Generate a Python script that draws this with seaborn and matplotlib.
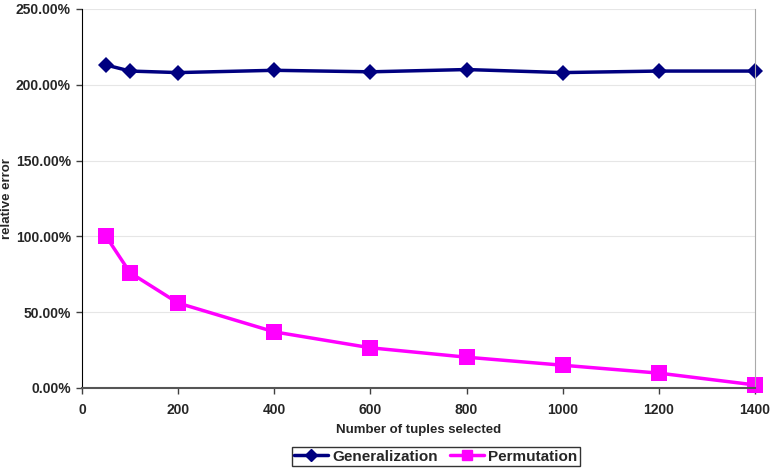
import matplotlib
matplotlib.use("Agg")
import matplotlib.pyplot as plt
import seaborn as sns
import pandas as pd
from matplotlib.ticker import FuncFormatter
from matplotlib.lines import Line2D

x_values = [50, 100, 200, 400, 600, 800, 1000, 1200, 1400]
generalization = [213.0, 209.0, 208.0, 209.5, 208.5, 210.0, 208.0, 209.0, 209.0]
permutation = [100.0, 76.0, 56.0, 37.0, 26.5, 20.3, 15.0, 9.8, 2.0]
series_names = ["Generalization", "Permutation"]

df = pd.DataFrame({
    "x": x_values * 2,
    "y": generalization + permutation,
    "series": [series_names[0]] * len(x_values) + [series_names[1]] * len(x_values),
})

sns.set_style("white")
plt.rcParams['font.family'] = ['Liberation Sans', 'DejaVu Sans']

fig = plt.figure(figsize=(7.7, 4.68), dpi=100)
ax = fig.add_axes([0.1065, 0.171, 0.874, 0.81])

sns.lineplot(data=df, x="x", y="y", hue="series", style="series",
             palette={"Generalization": "#000080", "Permutation": "#FF00FF"},
             markers={"Generalization": "D", "Permutation": "s"},
             dashes=False, markersize=8, linewidth=2.5, markeredgewidth=0,
             ax=ax, legend=False)
for line, ms in zip(ax.lines, [8, 11]):
    line.set_markersize(ms)
    line.set_clip_on(False)

ax.set_xlim(0, 1400)
ax.set_ylim(0, 250)
ax.set_xticks(range(0, 1401, 200))
ax.set_yticks(range(0, 251, 50))
ax.yaxis.set_major_formatter(FuncFormatter(lambda v, p: f"{v:.2f}%"))
ax.grid(axis="y", color="#e6e6e6", linewidth=0.8)
ax.set_axisbelow(True)
for lab in ax.get_xticklabels() + ax.get_yticklabels():
    lab.set_fontweight("bold")
    lab.set_fontsize(10)
ax.tick_params(axis="both", direction="out", length=4, width=1, color="#404040", bottom=True, left=True)
ax.tick_params(axis="x", pad=7)
ax.tick_params(axis="y", pad=4)
ax.set_xlabel("Number of tuples selected", fontsize=9.5, fontweight="bold", labelpad=5)
ax.set_ylabel("relative error", fontsize=9.5, fontweight="bold")
ax.yaxis.set_label_coords(-0.102, 0.5)
ax.spines["left"].set_color("black")
ax.spines["bottom"].set_color("#555555")
ax.spines["bottom"].set_linewidth(1.5)
ax.spines["right"].set_color("#aaaaaa")
ax.spines["top"].set_visible(False)

handles = [Line2D([], [], color="#000080", marker="D", markersize=6, linewidth=2.5),
           Line2D([], [], color="#FF00FF", marker="s", markersize=7, linewidth=2.5)]
leg = fig.legend(handles, series_names, loc="lower center", bbox_to_anchor=(0.566, -0.012),
                 ncol=2, frameon=True, fancybox=False, prop={"weight": "bold", "size": 11},
                 handlelength=2.2, handletextpad=0.3, columnspacing=0.8, borderpad=0.15)
leg.get_frame().set_edgecolor("black")
leg.get_frame().set_linewidth(1)

fig.savefig("out.png", dpi=100)
